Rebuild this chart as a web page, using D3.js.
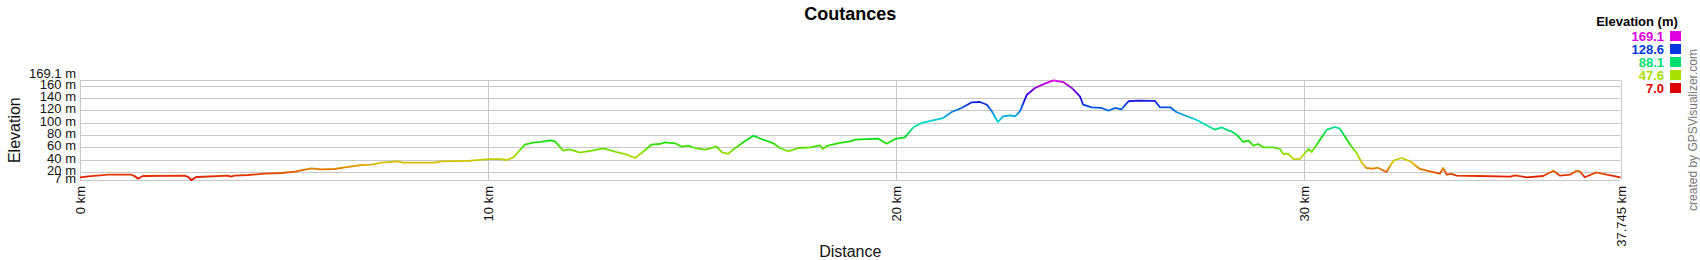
<!DOCTYPE html>
<html>
<head>
<meta charset="utf-8">
<script src="https://cdn.jsdelivr.net/npm/d3@7"></script>
<style>
    body { margin: 0; background: #fff; }
    svg { display: block; font-family: "Liberation Sans", Arial, sans-serif; }
</style>
</head>
<body>
<svg id="chart" width="1700" height="260"></svg>
<script>

const title = "Coutances"

// distance along the track (km) and elevation (m)
const distKm = [0.00, 0.20, 0.69, 1.26, 1.35, 1.42, 1.54, 2.56, 2.65, 2.73, 2.85, 3.63, 3.70, 3.78, 4.12, 4.52, 4.93, 5.26,
    5.67, 5.91, 6.24, 6.49, 6.89, 7.14, 7.38, 7.79, 7.91, 8.69, 8.85, 9.51, 10.00, 10.29, 10.45, 10.62, 10.90, 11.10,
    11.30, 11.52, 11.64, 11.84, 12.00, 12.25, 12.58, 12.82, 13.15, 13.40, 13.60, 13.76, 14.00, 14.21, 14.33, 14.58,
    14.74, 14.90, 15.07, 15.31, 15.60, 15.72, 15.88, 16.00, 16.25, 16.50, 16.70, 16.99, 17.15, 17.35, 17.60, 17.89,
    18.13, 18.20, 18.30, 18.62, 18.87, 19.00, 19.56, 19.77, 19.97, 20.21, 20.42, 20.62, 20.87, 21.15, 21.36, 21.60,
    21.85, 22.05, 22.22, 22.34, 22.49, 22.62, 22.79, 22.91, 23.03, 23.20, 23.40, 23.64, 23.85, 24.09, 24.30, 24.50,
    24.58, 24.79, 25.03, 25.20, 25.36, 25.52, 25.69, 25.93, 26.34, 26.46, 26.71, 26.87, 27.24, 27.40, 27.65, 27.81,
    27.97, 28.14, 28.22, 28.35, 28.50, 28.63, 28.75, 28.87, 28.99, 29.24, 29.40, 29.48, 29.60, 29.73, 29.89, 30.10,
    30.18, 30.30, 30.55, 30.75, 30.87, 31.12, 31.28, 31.40, 31.52, 31.68, 31.80, 32.01, 32.18, 32.38, 32.59, 32.83,
    33.08, 33.32, 33.40, 33.49, 33.60, 33.73, 34.30, 35.04, 35.16, 35.45, 35.85, 36.10, 36.26, 36.51, 36.67, 36.75,
    36.87, 37.15, 37.41, 37.745]
const elevM = [11.4, 13.0, 15.6, 15.6, 13.0, 9.1, 13.5, 14.0, 12.0, 7.0, 11.9, 14.0, 12.5, 14.0, 15.1, 17.3, 18.4, 20.5,
    26.0, 24.4, 24.9, 27.6, 31.4, 31.9, 35.1, 37.4, 35.1, 35.1, 37.4, 38.0, 41.1, 41.1, 39.5, 43.9, 64.4, 67.7,
    69.0, 71.5, 69.9, 54.7, 56.9, 51.4, 55.3, 58.5, 52.5, 48.2, 42.8, 50.9, 64.4, 65.5, 68.3, 66.7,
    61.2, 62.8, 59.0, 56.3, 61.2, 52.5, 49.3, 56.3, 68.3, 79.0, 73.7, 66.7, 59.0, 53.7, 59.0, 60.2,
    63.4, 57.4, 62.3, 67.2, 69.9, 72.5, 74.2, 66.0, 73.7, 76.4, 92.7, 99.7, 103.4, 107.8, 117.6, 124.1,
    133.3, 133.8, 129.4, 118.7, 101.3, 110.6, 112.2, 110.6, 118.7, 145.7, 156.6, 163.6, 169.1, 166.3, 156.6, 143.1,
    129.4, 125.2, 124.1, 119.7, 124.1, 122.0, 135.0, 136.0, 135.5, 125.2, 125.2, 117.1, 107.8, 103.4, 94.3, 88.8,
    92.7, 87.2, 86.0, 80.0, 68.8, 70.9, 62.8, 65.5, 60.2, 60.2, 57.4, 49.3, 50.0, 41.1, 41.1, 57.4,
    52.5, 64.4, 88.8, 93.2, 90.4, 64.4, 50.9, 35.8, 26.5, 25.4, 27.0, 20.0, 38.4, 42.8, 37.4, 24.9,
    21.1, 17.2, 26.5, 15.6, 17.0, 14.0, 13.5, 12.4, 14.6, 11.4, 13.5, 22.1, 14.0, 15.6, 22.1, 21.0,
    11.4, 19.5, 15.6, 11.4]

const yTicks = [7, 20, 40, 60, 80, 100, 120, 140, 160, 169.1]
const xTicks = [0, 10, 20, 30, 37.745]
const legendValues = [169.1, 128.6, 88.1, 47.6, 7.0]

const minElev = 7, maxElev = 169.1, totalKm = 37.745

const svg = d3.select("#chart")
const plotLeft = 80, plotRight = 1620.5, plotTop = 80.3, plotBottom = 180

const x = d3.scaleLinear().domain([0, totalKm]).range([plotLeft, plotRight])
const y = d3.scaleLinear().domain([minElev, maxElev]).range([plotBottom, plotTop])

// elevation colour: red -> yellow -> green -> blue -> magenta
const hue = d3.scaleLinear().domain([minElev, maxElev]).range([0, 300])
const elevColor = v => d3.hsl(hue(v), 1, 0.44).formatHex()

// grid
svg.append("g")
    .selectAll("line")
    .data(yTicks)
    .enter().append("line")
    .attr("x1", plotLeft).attr("x2", plotRight)
    .attr("y1", d => Math.round(y(d)) + 0.5).attr("y2", d => Math.round(y(d)) + 0.5)
    .attr("stroke", "#c8c8c8")

svg.append("g")
    .selectAll("line")
    .data(xTicks)
    .enter().append("line")
    .attr("x1", d => Math.round(x(d)) + 0.5).attr("x2", d => Math.round(x(d)) + 0.5)
    .attr("y1", plotTop).attr("y2", plotBottom)
    .attr("stroke", "#c8c8c8")

// y labels
svg.append("g")
    .selectAll("text")
    .data(yTicks)
    .enter().append("text")
    .attr("x", 76)
    .attr("y", d => y(d) + 3 - (d === maxElev ? 5 : 0))
    .attr("text-anchor", "end")
    .attr("font-size", 13)
    .attr("fill", "#111")
    .text(d => d + " m")

// x labels (rotated)
svg.append("g")
    .selectAll("text")
    .data(xTicks)
    .enter().append("text")
    .attr("transform", d => `translate(${x(d) + 5},186) rotate(-90)`)
    .attr("text-anchor", "end")
    .attr("font-size", 13)
    .attr("fill", "#111")
    .text(d => d + " km")

// gradient along elevation
const grad = svg.append("defs").append("linearGradient")
    .attr("id", "elevGrad")
    .attr("gradientUnits", "userSpaceOnUse")
    .attr("x1", 0).attr("x2", 0)
    .attr("y1", y(minElev)).attr("y2", y(maxElev))
grad.selectAll("stop")
    .data(d3.range(0, 13).map(i => minElev + (maxElev - minElev) * i / 12))
    .enter().append("stop")
    .attr("offset", d => (d - minElev) / (maxElev - minElev))
    .attr("stop-color", d => elevColor(d))

const profile = distKm.map((d, i) => [d, elevM[i]])
const line = d3.line()
    .x(d => x(d[0]))
    .y(d => y(d[1]))

svg.append("path")
    .datum(profile)
    .attr("d", line)
    .attr("fill", "none")
    .attr("stroke", "url(#elevGrad)")
    .attr("stroke-width", 1.8)
    .attr("stroke-linejoin", "round")

// titles
svg.append("text")
    .attr("x", (plotLeft + plotRight) / 2).attr("y", 19.5)
    .attr("text-anchor", "middle")
    .attr("font-size", 18).attr("font-weight", "bold")
    .text(title)

svg.append("text")
    .attr("x", (plotLeft + plotRight) / 2).attr("y", 257)
    .attr("text-anchor", "middle")
    .attr("font-size", 16)
    .attr("fill", "#111")
    .text("Distance")

svg.append("text")
    .attr("transform", `translate(20,${(plotTop + plotBottom) / 2}) rotate(-90)`)
    .attr("text-anchor", "middle")
    .attr("font-size", 16)
    .attr("fill", "#111")
    .text("Elevation")

// legend
const legend = svg.append("g")
legend.append("text")
    .attr("x", 1637).attr("y", 26)
    .attr("text-anchor", "middle")
    .attr("font-size", 13).attr("font-weight", "bold")
    .text("Elevation (m)")

const rows = legend.selectAll("g.row")
    .data(legendValues)
    .enter().append("g")
    .attr("class", "row")
    .attr("transform", (d, i) => `translate(0,${36 + i * 13})`)
rows.append("text")
    .attr("x", 1664).attr("y", 4.5)
    .attr("text-anchor", "end")
    .attr("font-size", 13).attr("font-weight", "bold")
    .attr("fill", d => elevColor(d))
    .text(d => d.toFixed(1))
rows.append("rect")
    .attr("x", 1670).attr("y", -5)
    .attr("width", 11).attr("height", 10)
    .attr("fill", d => elevColor(d))

svg.append("text")
    .attr("transform", "translate(1697,130) rotate(-90)")
    .attr("text-anchor", "middle")
    .attr("font-size", 12)
    .attr("fill", "#777")
    .text("created  by  GPSVisualizer.com")

</script>
</body>
</html>
